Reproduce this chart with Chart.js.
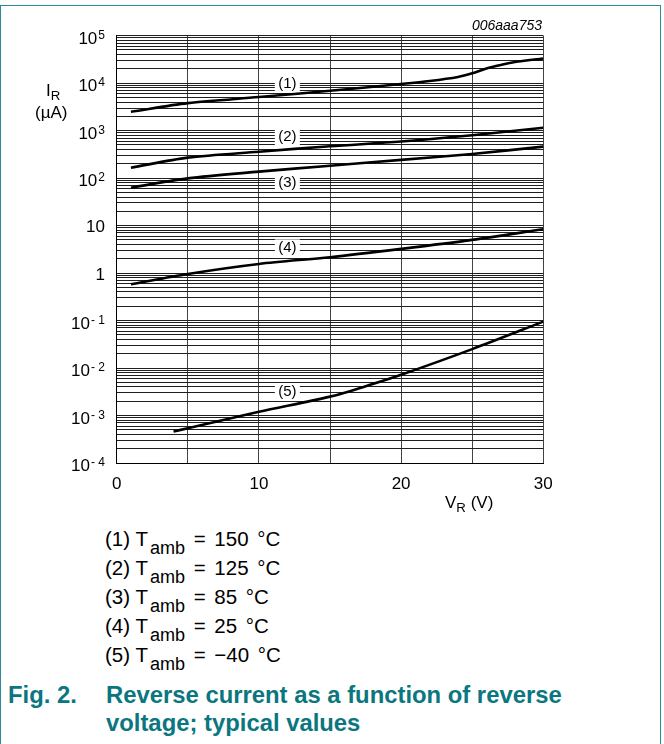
<!DOCTYPE html>
<html lang="en">
<head>
<meta charset="utf-8">
<title>Reverse current as a function of reverse voltage</title>
<script src="https://cdn.jsdelivr.net/npm/chart.js@4"></script>
<style>
    body { margin: 0; background: #fff; }
    #page { position: relative; width: 664px; height: 744px; overflow: hidden;
            font-family: "Liberation Sans", Arial, sans-serif; color: #000; }
    #frame { position: absolute; left: 0; top: 5px; width: 661px; height: 760px;
             border: 1.5px solid #2b8a92; box-sizing: border-box; }
    #chart { position: absolute; left: 0; top: 0; }
    .txt { position: absolute; line-height: 1; white-space: nowrap; }
    .sub { position: relative; font-size: 0.78em; top: 0.3em; }
    #legend { position: absolute; left: 105px; top: 524.6px; font-size: 20.5px; line-height: 28px; white-space: nowrap; }
    #legend .sub { font-size: 0.88em; top: 0.45em; margin-left: 2px; }
    #legend .rest { word-spacing: 3px; }
    .cap { position: absolute; line-height: 1; white-space: nowrap; font-weight: bold;
           font-size: 24px; color: #0a7680; transform-origin: 0 0; }
</style>
</head>
<body>
<div id="page">
    <div id="frame"></div>
    <canvas id="chart" width="664" height="520"></canvas>

    <div class="txt" style="right:122px; top:18.2px; font-size:14px; font-style:italic;">006aaa753</div>

    <!-- axis titles -->
    <div class="txt" style="left:46px; top:82.3px; font-size:17px;">I<span class="sub">R</span></div>
    <div class="txt" style="left:35px; top:103.6px; font-size:17px;">(µA)</div>
    <div class="txt" style="left:445px; top:493.6px; font-size:17px;">V<span class="sub">R</span> (V)</div>

    <div id="legend"></div>

    <div class="cap" style="left:8.3px; top:683px;">Fig. 2.</div>
    <div class="cap" style="left:106px; top:683px;">Reverse current as a function of reverse</div>
    <div class="cap" style="left:106px; top:711px;">voltage; typical values</div>
</div>

<script>
    // curve data: V_R (V) and I_R (uA)
    const v1 = [1, 5, 10, 15, 20, 22, 24, 25, 26, 27, 28, 30];
    const i1 = [2500, 3800, 5100, 6900, 9600, 11100, 13500, 16100, 20400, 24200, 27900, 33100];   // 150 C
    const v2 = [1, 5, 10, 15, 20, 25, 30];
    const i2 = [166, 270, 360, 470, 590, 800, 1150];          // 125 C
    const v3 = [1, 5, 10, 15, 20, 25, 30];
    const i3 = [63, 99, 137, 183, 242, 323, 460];             // 85 C
    const v4 = [1, 5, 10, 15, 20, 25, 30];
    const i4 = [0.58, 0.96, 1.56, 2.16, 3.23, 5.0, 8.4];      // 25 C
    const v5 = [4, 5, 10, 15, 18, 20, 25, 30];
    const i5 = [0.00046, 0.00054, 0.0012, 0.0025, 0.0046, 0.0072, 0.025, 0.095];   // -40 C

    // curve tags inside the plot
    const tagText = ['(1)', '(2)', '(3)', '(4)', '(5)'];
    const tagV = [12, 12, 12, 12, 12];
    const tagI = [10000, 750, 80, 3.4, 0.0032];

    // legend
    const legendNum = ['(1)', '(2)', '(3)', '(4)', '(5)'];
    const legendTemp = ['150 °C', '125 °C', '85 °C', '25 °C', '−40 °C'];

    // axes
    const xTickLabels = [0, 10, 20, 30];
    const yDecades = [1e-4, 1e-3, 1e-2, 1e-1, 1, 10, 1e2, 1e3, 1e4, 1e5];
    const yTickBase = ['10', '10', '10', '10', '1', '10', '10', '10', '10', '10'];
    const yTickExp = ['- 4', '- 3', '- 2', '- 1', '', '', '2', '3', '4', '5'];
    const yMultipliers = [1, 2, 3, 4, 5, 6, 7, 8, 9];

    const FONT = '"Liberation Sans", Arial, sans-serif';

    document.getElementById('legend').innerHTML = legendNum.map((n, k) =>
        '<div>' + n + ' T<span class="sub">amb</span><span class="rest"> = ' + legendTemp[k] + '</span></div>').join('');

    // squeeze the caption to the condensed width of the original
    (function () {
        const c = document.createElement('canvas').getContext('2d');
        c.font = 'bold 24px ' + FONT;
        const s = 455.7 / c.measureText('Reverse current as a function of reverse').width;
        document.querySelectorAll('.cap').forEach(el => el.style.transform = 'scaleX(' + s + ')');
    })();

    function pts(xs, ys) {
        return xs.map((x, k) => ({ x: x, y: ys[k] }));
    }

    function curve(xs, ys) {
        return {
            data: pts(xs, ys),
            borderColor: '#000',
            borderWidth: 2.6,
            pointRadius: 0,
            tension: 0.3,
            fill: false
        };
    }

    const yGrid = [];
    yDecades.slice(0, -1).forEach(d => yMultipliers.forEach(m => yGrid.push(d * m)));
    yGrid.push(yDecades[yDecades.length - 1]);

    const labelPlugin = {
        id: 'labels',
        afterDatasetsDraw(chart) {
            const ctx = chart.ctx;
            const xs = chart.scales.x, ys = chart.scales.y;
            ctx.save();

            // curve tags with white boxes
            ctx.font = '15px ' + FONT;
            ctx.textAlign = 'center';
            ctx.textBaseline = 'middle';
            tagText.forEach((t, k) => {
                const px = xs.getPixelForValue(tagV[k]);
                const py = ys.getPixelForValue(tagI[k]);
                ctx.fillStyle = '#fff';
                ctx.fillRect(px - 12.5, py - 8.5, 25, 17);
                ctx.fillStyle = '#000';
                ctx.fillText(t, px, py + 0.5);
            });

            // y tick labels with exponents
            ctx.textAlign = 'right';
            ctx.textBaseline = 'alphabetic';
            const right = 105;
            yDecades.forEach((v, k) => {
                const py = ys.getPixelForValue(v);
                if (yTickExp[k]) {
                    ctx.font = '12px ' + FONT;
                    const ew = ctx.measureText(yTickExp[k]).width;
                    ctx.fillText(yTickExp[k], right, py + 3);
                    ctx.font = '17px ' + FONT;
                    ctx.fillText(yTickBase[k], right - ew - 1, py + 8);
                } else {
                    ctx.font = '17px ' + FONT;
                    ctx.fillText(yTickBase[k], right, py + 6.5);
                }
            });
            ctx.restore();
        }
    };

    const ctx = document.getElementById('chart').getContext('2d');
    new Chart(ctx, {
        type: 'line',
        data: {
            datasets: [curve(v1, i1), curve(v2, i2), curve(v3, i3), curve(v4, i4), curve(v5, i5)]
        },
        options: {
            responsive: false,
            animation: false,
            layout: { padding: { left: 0, top: 35.7, right: 120.7, bottom: 0 } },
            plugins: { legend: { display: false }, tooltip: { enabled: false } },
            scales: {
                x: {
                    type: 'linear',
                    min: 0,
                    max: 30,
                    ticks: {
                        stepSize: 5,
                        padding: 11,
                        color: '#000',
                        font: { family: FONT, size: 17 },
                        maxRotation: 0,
                        autoSkip: false,
                        callback: v => xTickLabels.includes(v) ? String(v) : ''
                    },
                    grid: { color: '#444', lineWidth: 1, drawTicks: false },
                    border: { color: '#000', width: 1 },
                    afterFit(scale) {
                        scale.height = 57;
                        scale.paddingLeft = 0;
                        scale.paddingRight = 0;
                    }
                },
                y: {
                    type: 'logarithmic',
                    min: 1e-4,
                    max: 1e5,
                    ticks: { display: false, autoSkip: false },
                    grid: { color: '#1e1e1e', lineWidth: 1, drawTicks: false },
                    border: { color: '#000', width: 1 },
                    afterBuildTicks(scale) {
                        scale.ticks = yGrid.map(v => ({ value: v }));
                    },
                    afterFit(scale) {
                        scale.width = 116.7;
                        scale.paddingTop = 0;
                        scale.paddingBottom = 0;
                    }
                }
            }
        },
        plugins: [labelPlugin]
    });
</script>
</body>
</html>
